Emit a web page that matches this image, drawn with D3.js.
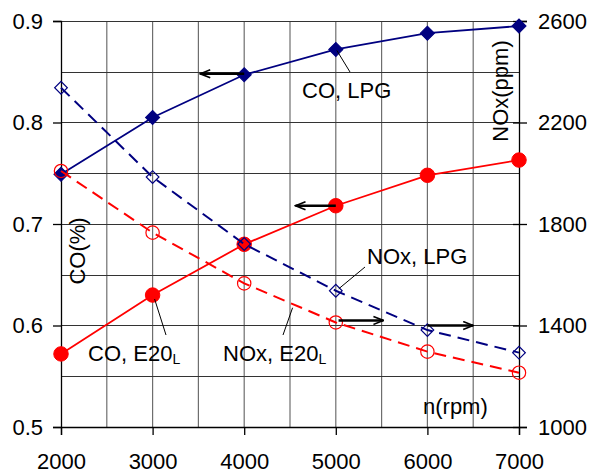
<!DOCTYPE html>
<html>
<head>
<meta charset="utf-8">
<script src="https://cdn.jsdelivr.net/npm/d3@7"></script>
<style>
  html, body { margin: 0; padding: 0; background: #fff; }
  svg { display: block; font-family: "Liberation Sans", Arial, sans-serif; }
</style>
</head>
<body>
<svg id="chart" width="589" height="475"></svg>
<script>
// Engine speed (rpm)
const rpm = [2000, 3000, 4000, 5000, 6000, 7000];
// CO emissions (%)
const coLPG = [0.749, 0.805, 0.847, 0.872, 0.888, 0.895];
const coE20 = [0.572, 0.630, 0.680, 0.718, 0.748, 0.763];
// NOx emissions (ppm)
const noxLPG = [2337, 1985, 1721, 1537, 1382, 1293];
const noxE20 = [2009, 1766, 1566, 1412, 1297, 1214];

const rpmTicks = [2000, 3000, 4000, 5000, 6000, 7000];
const coTicks = [0.5, 0.6, 0.7, 0.8, 0.9];
const noxTicks = [1000, 1400, 1800, 2200, 2600];

const NAVY = "#000080", RED = "#ff0000";
const FS = 22;

const svg = d3.select("#chart");
const m = { left: 61, right: 519, top: 21, bottom: 427 };

const x = d3.scaleLinear().domain([2000, 7000]).range([m.left, m.right]);
const yCO = d3.scaleLinear().domain([0.5, 0.9]).range([m.bottom, m.top]);
const yNOx = d3.scaleLinear().domain([1000, 2600]).range([m.bottom, m.top]);

// grid: verticals every 500 rpm, horizontals every 0.05 %
const g = svg.append("g");
g.selectAll("line.v").data(d3.range(2500, 7000, 500)).join("line")
  .attr("x1", d => x(d)).attr("x2", d => x(d))
  .attr("y1", m.top).attr("y2", m.bottom)
  .attr("stroke", "#6e6e6e").attr("stroke-width", 1.2);
g.selectAll("line.h").data(d3.range(0.55, 0.91, 0.05)).join("line")
  .attr("x1", m.left).attr("x2", m.right)
  .attr("y1", d => Math.round(yCO(d)) + 0.5).attr("y2", d => Math.round(yCO(d)) + 0.5)
  .attr("stroke", "#333").attr("stroke-width", 1.2);

// axes
const axL = d3.axisLeft(yCO).tickValues(coTicks).tickFormat(d3.format(".1f")).tickSize(8).tickPadding(10);
const axR = d3.axisRight(yNOx).tickValues(noxTicks).tickFormat(d3.format("d")).tickSize(8).tickPadding(11);
const axB = d3.axisBottom(x).tickValues(rpmTicks).tickFormat(d3.format("d")).tickSize(8).tickPadding(18);

function style(sel) {
  sel.selectAll("path").attr("stroke", "#000").attr("stroke-width", 1.3);
  sel.selectAll("line").attr("stroke", "#000").attr("stroke-width", 1.3);
  sel.selectAll("text").attr("font-size", FS).attr("fill", "#000")
    .attr("font-family", "'Liberation Sans', Arial, sans-serif");
}
svg.append("g").attr("transform", `translate(${m.left},0)`).call(axL).call(style);
const gR = svg.append("g").attr("transform", `translate(${m.right},0)`).call(axR).call(style);
gR.selectAll(".tick line").attr("x1", -6);
svg.append("g").attr("transform", `translate(0,${m.bottom})`).call(axB).call(style);
svg.select(".domain");

// series
const line = (yS) => d3.line().x((d, i) => x(rpm[i])).y(d => yS(d));

const series = [
  { vals: coLPG, y: yCO, color: NAVY, dash: null, marker: "diamond", fill: true },
  { vals: coE20, y: yCO, color: RED, dash: null, marker: "circle", fill: true },
  { vals: noxLPG, y: yNOx, color: NAVY, dash: "12,7", marker: "diamond", fill: false },
  { vals: noxE20, y: yNOx, color: RED, dash: "12,7", marker: "circle", fill: false }
];

series.forEach(s => {
  svg.append("path").datum(s.vals)
    .attr("d", line(s.y))
    .attr("fill", "none")
    .attr("stroke", s.color)
    .attr("stroke-width", s.dash ? 2 : 1.8)
    .attr("stroke-dasharray", s.dash);
  const sym = s.marker === "diamond"
    ? d3.symbol().type(d3.symbolSquare).size(s.fill ? 100 : 80)
    : d3.symbol().type(d3.symbolCircle).size(s.fill ? 165 : 140);
  svg.append("g").selectAll("path").data(s.vals).join("path")
    .attr("d", sym)
    .attr("transform", (d, i) => `translate(${x(rpm[i])},${s.y(d)})` + (s.marker === "diamond" ? " rotate(45)" : ""))
    .attr("fill", s.fill ? s.color : "none")
    .attr("stroke", s.color)
    .attr("stroke-width", s.fill ? 1 : 1.2);
});

// arrows pointing to the relevant axis
svg.append("defs").append("marker")
  .attr("id", "arr").attr("viewBox", "0 0 12 10").attr("refX", 11).attr("refY", 5)
  .attr("markerWidth", 12).attr("markerHeight", 10).attr("markerUnits", "userSpaceOnUse")
  .attr("orient", "auto")
  .append("path").attr("d", "M1,1 L11,5 L1,9").attr("fill", "none")
  .attr("stroke", "#000").attr("stroke-width", 1.6);

const arrows = [
  { x0: 4000, x1: 3520, y: yCO(0.848) },
  { x0: 5000, x1: 4560, y: yCO(0.718) },
  { x0: 5030, x1: 5520, y: yNOx(1420) },
  { x0: 6000, x1: 6500, y: yNOx(1400) }
];
svg.append("g").selectAll("line").data(arrows).join("line")
  .attr("x1", d => x(d.x0)).attr("x2", d => x(d.x1))
  .attr("y1", d => d.y).attr("y2", d => d.y)
  .attr("stroke", "#000").attr("stroke-width", 2.6)
  .attr("marker-end", "url(#arr)");

// leader lines to series labels
const leaders = [
  [x(5000) + 1, yCO(coLPG[3]) + 1, 350, 72],
  [x(3000) + 2, yCO(coE20[1]) + 4, 166, 335],
  [x(4550) - 2, yNOx(1470), 283, 335],
  [x(5000) + 3, yNOx(noxLPG[3]) - 2, 365, 267]
];
svg.append("g").selectAll("line").data(leaders).join("line")
  .attr("x1", d => d[0]).attr("y1", d => d[1]).attr("x2", d => d[2]).attr("y2", d => d[3])
  .attr("stroke", "#000").attr("stroke-width", 1);

// labels
const lab = svg.append("g").attr("font-size", FS).attr("fill", "#000");
function label(tx, ty, main, sub) {
  const t = lab.append("text").attr("x", tx).attr("y", ty);
  t.append("tspan").text(main);
  if (sub) t.append("tspan").attr("font-size", 14).attr("dy", 3).text(sub);
}
label(302, 98, "CO, LPG");
label(367, 264, "NOx, LPG");
label(88, 361, "CO, E20", "L");
label(223, 361, "NOx, E20", "L");
label(423, 414, "n(rpm)");

lab.append("text").attr("transform", `translate(85,251) rotate(-90)`)
  .attr("text-anchor", "middle").text("CO(%)");
lab.append("text").attr("transform", `translate(508,91) rotate(-90)`)
  .attr("text-anchor", "middle").text("NOx(ppm)");
</script>
</body>
</html>
